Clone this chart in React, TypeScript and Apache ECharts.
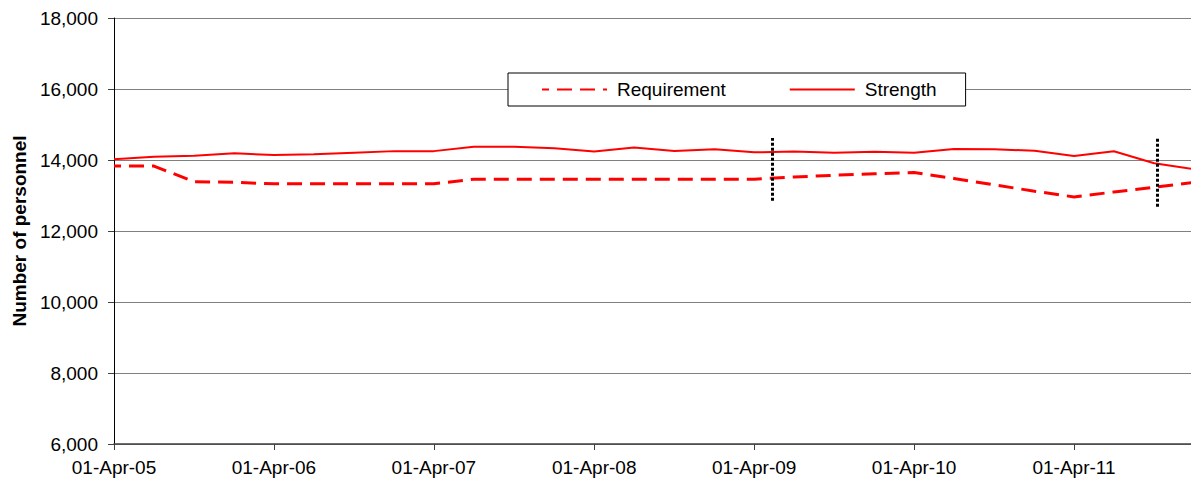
import React, { useEffect, useRef } from "react";
import * as echarts from "echarts";

// ---- Data ----
const quarterDates = [
  "2005-04-01", "2005-07-01", "2005-10-01",
  "2006-01-01", "2006-04-01", "2006-07-01", "2006-10-01",
  "2007-01-01", "2007-04-01", "2007-07-01", "2007-10-01",
  "2008-01-01", "2008-04-01", "2008-07-01", "2008-10-01",
  "2009-01-01", "2009-04-01", "2009-07-01", "2009-10-01",
  "2010-01-01", "2010-04-01", "2010-07-01", "2010-10-01",
  "2011-01-01", "2011-04-01", "2011-07-01", "2011-10-01",
  "2012-01-01",
];

const requirement = [
  13830, 13830, 13390,
  13370, 13330, 13330, 13330,
  13330, 13330, 13460, 13460,
  13460, 13460, 13460, 13460,
  13460, 13460, 13520, 13570,
  13610, 13650, 13480, 13300,
  13120, 12960, 13100, 13230,
  13370,
];

const strength = [
  14020, 14093, 14120,
  14188, 14140, 14160, 14205,
  14250, 14250, 14375, 14375,
  14330, 14240, 14350, 14255,
  14300, 14215, 14240, 14205,
  14235, 14205, 14310, 14300,
  14260, 14110, 14245, 13910,
  13740,
];

const xTickDates = [
  "2005-04-01", "2006-04-01", "2007-04-01", "2008-04-01",
  "2009-04-01", "2010-04-01", "2011-04-01",
];
const xMinDate = "2005-04-01";
const xMaxDate = "2011-12-24";

const markerDates = ["2009-05-13", "2011-10-08"];
const markerLows = [12850, 12680];
const markerHighs = [14620, 14620];

const yMin = 6000;
const yMax = 18000;
const yStep = 2000;

const MONTHS = ["Jan", "Feb", "Mar", "Apr", "May", "Jun", "Jul", "Aug", "Sep", "Oct", "Nov", "Dec"];

const ts = (s: string) => {
  const [y, m, d] = s.split("-").map(Number);
  return Date.UTC(y, m - 1, d);
};

const fmtDate = (v: number) => {
  const d = new Date(v);
  const dd = String(d.getUTCDate()).padStart(2, "0");
  return `${dd}-${MONTHS[d.getUTCMonth()]}-${String(d.getUTCFullYear()).slice(2)}`;
};

const FONT = "'Liberation Sans', Arial, sans-serif";

export default function App() {
  const ref = useRef<HTMLDivElement>(null);

  useEffect(() => {
    if (!ref.current) return;
    const chart = echarts.init(ref.current, undefined, { renderer: "svg" });
    const tickVals = xTickDates.map(ts);

    chart.setOption({
      animation: false,
      backgroundColor: "#ffffff",
      textStyle: { fontFamily: FONT },
      grid: { left: 114, right: 0, top: 18, bottom: 43, containLabel: false },
      legend: {
        data: ["Requirement", "Strength"],
        left: 508,
        top: 73,
        orient: "horizontal",
        itemWidth: 65,
        itemHeight: 14,
        itemGap: 63,
        padding: [7, 29, 7, 33],
        backgroundColor: "#ffffff",
        borderColor: "#000000",
        borderWidth: 1,
        itemStyle: { opacity: 0 },
        textStyle: { fontSize: 19, color: "#000", fontFamily: FONT, padding: [0, 0, 0, 5] },
      },
      xAxis: {
        type: "value",
        min: ts(xMinDate),
        max: ts(xMaxDate),
        axisLine: { show: true, onZero: false, lineStyle: { color: "#404040", width: 1.5 } },
        axisTick: {
          show: true,
          inside: false,
          length: 6,
          customValues: tickVals,
          lineStyle: { color: "#404040" },
        },
        axisLabel: {
          customValues: tickVals,
          formatter: (v: number) => fmtDate(v),
          fontSize: 19,
          color: "#000",
          margin: 14,
          fontFamily: FONT,
        },
        splitLine: { show: false },
      },
      yAxis: {
        type: "value",
        min: yMin,
        max: yMax,
        interval: yStep,
        name: "Number of personnel",
        nameLocation: "middle",
        nameGap: 84,
        nameTextStyle: { fontSize: 19, fontWeight: "bold", color: "#000", fontFamily: FONT },
        axisLine: { show: true, lineStyle: { color: "#000", width: 1 } },
        axisTick: { show: true, inside: false, length: 6, lineStyle: { color: "#404040" } },
        axisLabel: {
          formatter: (v: number) => v.toLocaleString("en-US"),
          fontSize: 19,
          color: "#000",
          margin: 16,
          fontFamily: FONT,
        },
        splitLine: { show: true, lineStyle: { color: "#808080", width: 1 } },
      },
      series: [
        {
          name: "Requirement",
          type: "line",
          symbol: "none",
          data: quarterDates.map((d, i) => [ts(d), requirement[i]]),
          lineStyle: { color: "#ff0000", width: 3, type: [15, 8], dashOffset: 8 },
          itemStyle: { color: "#ff0000" },
        },
        {
          name: "Strength",
          type: "line",
          symbol: "none",
          data: quarterDates.map((d, i) => [ts(d), strength[i]]),
          lineStyle: { color: "#ff0000", width: 2 },
          itemStyle: { color: "#ff0000" },
          markLine: {
            silent: true,
            symbol: ["none", "none"],
            label: { show: false },
            lineStyle: { color: "#000", width: 3, type: [3, 2] },
            data: markerDates.map((d, i) => [
              { coord: [ts(d), markerLows[i]] },
              { coord: [ts(d), markerHighs[i]] },
            ]),
          },
        },
      ],
    });

    return () => chart.dispose();
  }, []);

  return (
    <div
      ref={ref}
      style={{ position: "absolute", left: 0, top: 0, width: 1191, height: 487 }}
    />
  );
}
